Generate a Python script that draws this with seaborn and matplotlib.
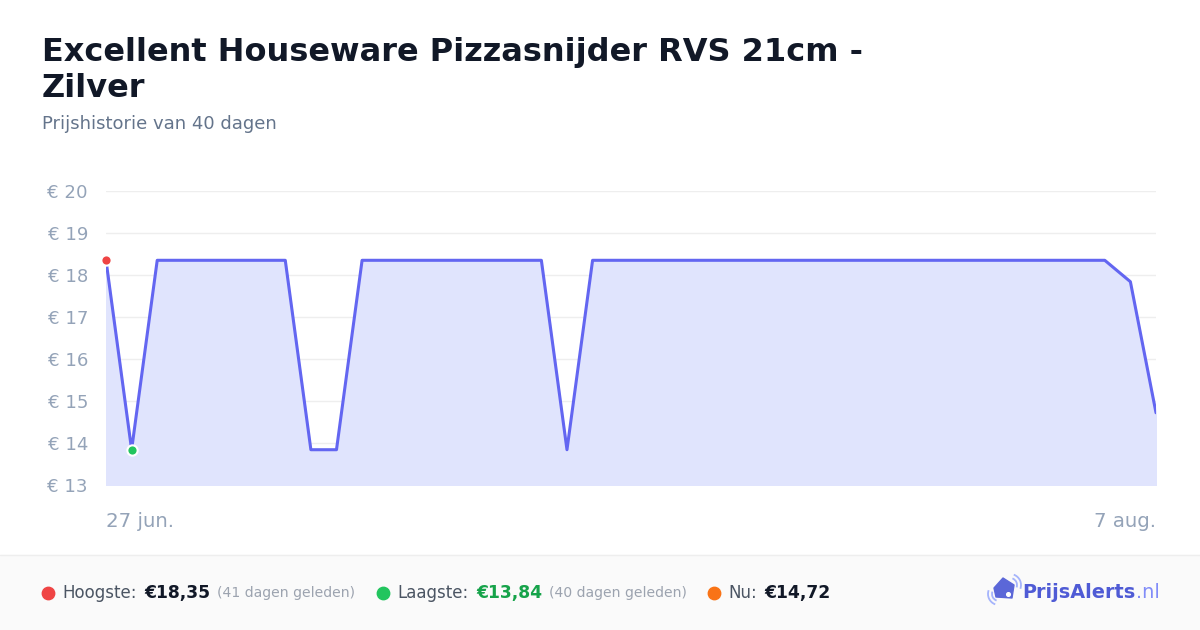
import pandas as pd
import matplotlib.pyplot as plt
import seaborn as sns
from matplotlib.patches import Rectangle, Arc, Polygon

# price history, one value per day
dates = pd.date_range("2024-06-27", "2024-08-07", freq="D")
prices = ([18.35, 13.84] + [18.35] * 6 + [13.84] * 2 + [18.35] * 8 + [13.84]
          + [18.35] * 21 + [17.84, 14.72])
y_ticks = [13, 14, 15, 16, 17, 18, 19, 20]
x_labels = ["27 jun.", "7 aug."]

title = "Excellent Houseware Pizzasnijder RVS 21cm -\nZilver"
subtitle = "Prijshistorie van 40 dagen"

df = pd.DataFrame({"date": dates, "price": prices})

sns.set_style("white")
plt.rcParams["font.family"] = ["DejaVu Sans"]

fig = plt.figure(figsize=(12, 6.3), dpi=100)
fig.patch.set_facecolor("white")

# overlay in pixel coords for header / footer
ov = fig.add_axes([0, 0, 1, 1])
ov.set_xlim(0, 1200)
ov.set_ylim(630, 0)
ov.axis("off")

ax = fig.add_axes([106 / 1200, 1 - 485 / 630, 1050 / 1200, 294 / 630])

line_c = "#6366f1"
ax.fill_between(df["date"], df["price"], 13, color="#e0e4fd", zorder=1)
sns.lineplot(data=df, x="date", y="price", ax=ax, color=line_c, linewidth=2.2, zorder=3)

# highest / lowest markers
imax = df["price"].idxmax()
imin = df["price"].idxmin()
ax.scatter(df["date"][imax], df["price"][imax], s=55, color="#ef4444",
           edgecolor="white", linewidth=1.5, zorder=5, clip_on=False)
ax.scatter(df["date"][imin], df["price"][imin], s=55, color="#22c55e",
           edgecolor="white", linewidth=1.5, zorder=5, clip_on=False)

ax.set_xlim(dates[0], dates[-1])
ax.set_ylim(13, 20)
ax.set_yticks(y_ticks)
ax.set_yticklabels([f"€ {v}" for v in y_ticks])
for v in y_ticks:
    ax.axhline(v, color="#eeeeee" if v > 13 else "#dde0ea", linewidth=1, zorder=0)
ax.set_xticks([dates[0], dates[-1]])
ax.set_xticklabels(x_labels)
xt = ax.get_xticklabels()
xt[0].set_ha("left")
xt[1].set_ha("right")
ax.tick_params(axis="y", length=0, labelsize=13.1, colors="#94a3b8", pad=13)
ax.tick_params(axis="x", length=0, labelsize=14.2, colors="#94a3b8", pad=19.5)
ax.set_xlabel("")
ax.set_ylabel("")
for s in ax.spines.values():
    s.set_visible(False)
ax.patch.set_alpha(0)

# header
ov.text(42, 61, "Excellent Houseware Pizzasnijder RVS 21cm -", fontsize=23,
        fontweight="bold", color="#111827", va="baseline")
ov.text(42, 97, "Zilver", fontsize=23, fontweight="bold", color="#111827", va="baseline")
ov.text(42, 124, subtitle, fontsize=13, color="#64748b", va="center")

# footer
ov.add_patch(Rectangle((0, 555), 1200, 75, color="#fafafa", zorder=0))
ov.plot([0, 1200], [555, 555], color="#eeeeee", linewidth=1)

fy = 593
items = [
    (48, "#ef4444", "Hoogste:", 144, "€18,35", "#111827", 217, "(41 dagen geleden)"),
    (383, "#22c55e", "Laagste:", 476, "€13,84", "#16a34a", 549, "(40 dagen geleden)"),
    (714, "#f97316", "Nu:", 764, "€14,72", "#111827", None, None),
]
for dx, dc, lab, vx, val, vc, px, paren in items:
    ov.scatter(dx, fy, s=80, color=dc, zorder=3)
    ov.text(dx + 14, fy, lab, fontsize=12, color="#4b5563", va="center")
    ov.text(vx, fy, val, fontsize=12.3, fontweight="bold", color=vc, va="center")
    if paren:
        ov.text(px, fy, paren, fontsize=10.1, color="#9ca3af", va="center")

# logo
tag = Polygon([(994, 588), (1003, 578), (1014, 585), (1012, 598), (996, 597)],
              closed=True, color="#5b67d8", zorder=3, joinstyle="round")
ov.add_patch(tag)
ov.scatter(1008, 594, s=7, color="white", zorder=4)
for r in (7, 11):
    ov.add_patch(Arc((1010, 585), 2 * r, 2 * r, theta1=-70, theta2=20,
                     color="#a5b4fc", linewidth=1.3))
    ov.add_patch(Arc((999, 594), 2 * r, 2 * r, theta1=110, theta2=200,
                     color="#a5b4fc", linewidth=1.3))
ov.text(1022, fy, "PrijsAlerts", fontsize=13.9, fontweight="bold", color="#4f5bd5", va="center")
ov.text(1136, fy, ".nl", fontsize=13.9, color="#818cf8", va="center")

fig.savefig("out.png", dpi=100)
